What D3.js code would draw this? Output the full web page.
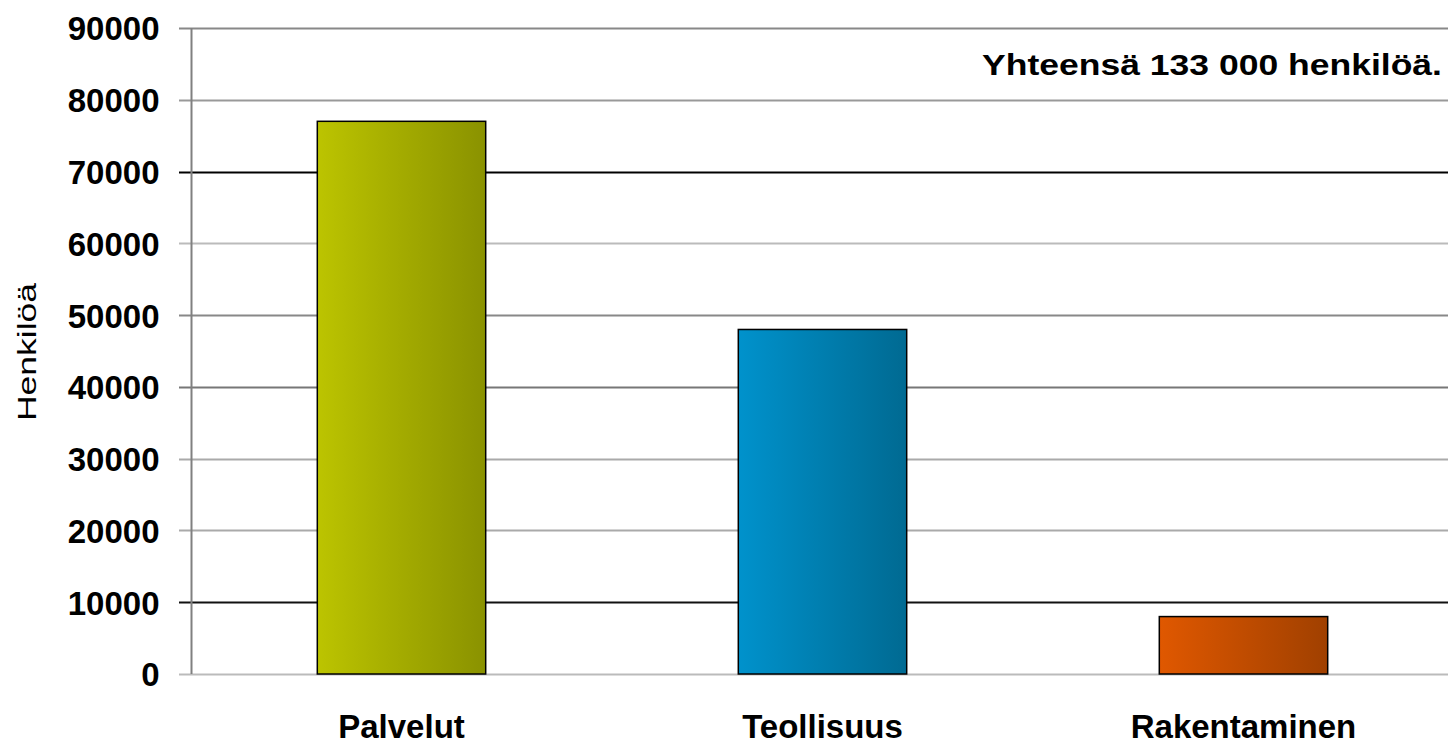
<!DOCTYPE html>
<html><head><meta charset="utf-8">
<script src="https://cdn.jsdelivr.net/npm/d3@7"></script>
<style>body{margin:0;background:#fff}svg{display:block}text{font-family:"Liberation Sans",Arial,sans-serif}</style>
</head><body>
<script>
const categories = ["Palvelut", "Teollisuus", "Rakentaminen"];
const values = [77000, 48000, 8000];
const yTicks = [0, 10000, 20000, 30000, 40000, 50000, 60000, 70000, 80000, 90000];
const yTitle = "Henkilöä";
const note = "Yhteensä 133 000 henkilöä.";

const W = 1448, H = 745;
const svg = d3.select("body").append("svg").attr("width", W).attr("height", H);

const x = d3.scaleBand().domain(categories).range([191, 1454]).paddingInner(0.6).paddingOuter(0.3);
const y = d3.scaleLinear().domain([0, 90000]).range([674, 28]);

const gridColor = {0:"#bbb",10000:"#111",20000:"#aaa",30000:"#aaa",40000:"#777",50000:"#888",60000:"#bbb",70000:"#000",80000:"#999",90000:"#888"};

const defs = svg.append("defs");
const grads = [["#bcc400","#8a9200"],["#0092cc","#006a92"],["#e05800","#a04000"]];
grads.forEach((g,i)=>{
  const lg = defs.append("linearGradient").attr("id","g"+i).attr("x1","0").attr("x2","1").attr("y1","0").attr("y2","0");
  lg.append("stop").attr("offset","0").attr("stop-color",g[0]);
  lg.append("stop").attr("offset","1").attr("stop-color",g[1]);
});

// gridlines
svg.append("g").selectAll("line").data(yTicks).join("line")
  .attr("x1", 179).attr("x2", W)
  .attr("y1", d=>Math.round(y(d))+0.5).attr("y2", d=>Math.round(y(d))+0.5)
  .attr("stroke", d=>gridColor[d]).attr("stroke-width", 2);

// axis
const ax = svg.append("g").attr("transform","translate(191.5,0)")
  .call(d3.axisLeft(y).tickValues(yTicks).tickFormat(d3.format("d")).tickSize(12).tickPadding(20));
ax.select(".domain").attr("stroke","#808080").attr("stroke-width",2).attr("d", `M0,${y(90000)}V${y(0)}`);
ax.selectAll(".tick line").remove();
ax.selectAll(".tick text").attr("font-size",33).attr("font-weight","bold").attr("fill","#000")
  .attr("x", -32).attr("dy","0.36em");

// bars
svg.append("g").selectAll("rect").data(values).join("rect")
  .attr("x",(d,i)=>x(categories[i])).attr("width",x.bandwidth())
  .attr("y",d=>y(d)).attr("height",d=>y(0)-y(d))
  .attr("fill",(d,i)=>`url(#g${i})`).attr("stroke","#000").attr("stroke-width",1.5);

// category labels
svg.append("g").selectAll("text").data(categories).join("text")
  .attr("x",d=>x(d)+x.bandwidth()/2).attr("y",738)
  .attr("text-anchor","middle").attr("font-size",33).attr("font-weight","bold")
  .text(d=>d);

// y title
svg.append("text").attr("transform","translate(36,352) rotate(-90)")
  .attr("text-anchor","middle").attr("font-size",26)
  .attr("textLength",138).attr("lengthAdjust","spacingAndGlyphs").text(yTitle);

// note
svg.append("text").attr("x",982).attr("y",75).attr("font-size",30).attr("font-weight","bold")
  .attr("textLength",460).attr("lengthAdjust","spacingAndGlyphs").text(note);
</script>
</body></html>
